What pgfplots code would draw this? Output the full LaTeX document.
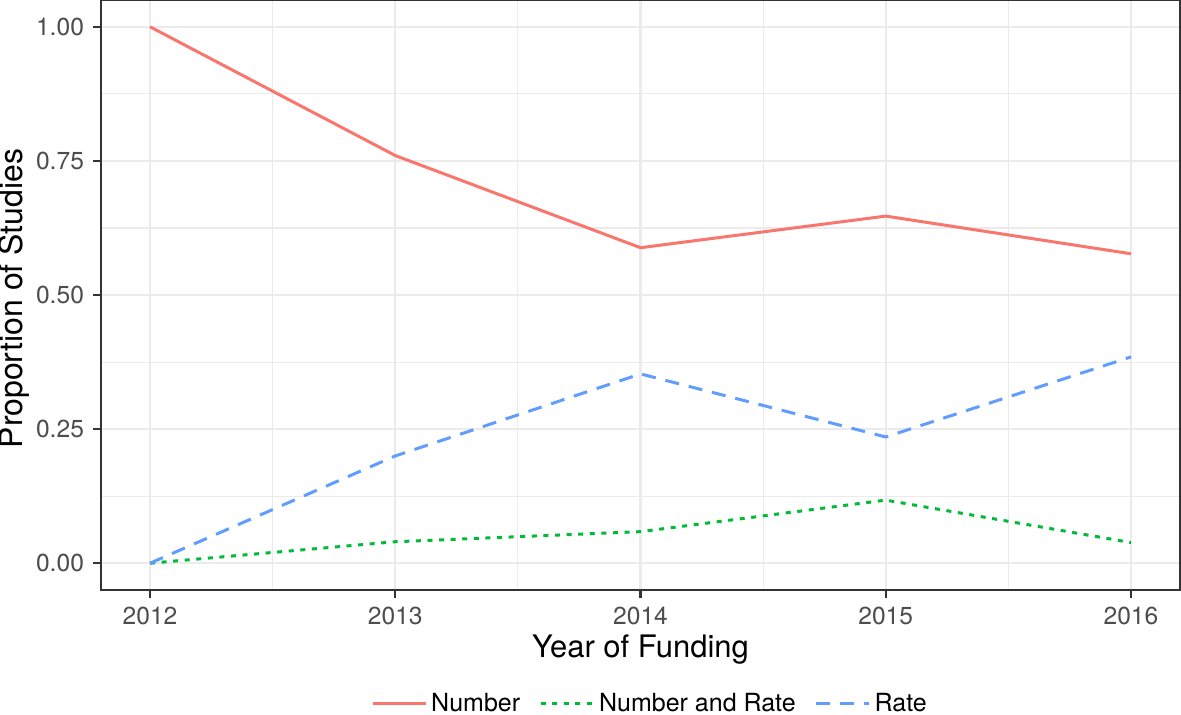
\documentclass[border=0pt]{standalone}
\usepackage{pgfplots}
\pgfplotsset{compat=1.18}
\usepackage{fontspec}
\setmainfont{TeX Gyre Heros}
\definecolor{cN}{HTML}{F8766D}
\definecolor{cNR}{HTML}{00BA38}
\definecolor{cR}{HTML}{619CFF}
\definecolor{gridc}{HTML}{EBEBEB}
\definecolor{frame}{HTML}{333333}
\definecolor{ticklab}{HTML}{4D4D4D}
\begin{document}
\begin{tikzpicture}
\begin{axis}[
  scale only axis,
  width=539.5pt, height=295pt,
  xmin=2011.8, xmax=2016.2,
  ymin=-0.05, ymax=1.05,
  xtick={2012,2013,2014,2015,2016},
  ytick={0,0.25,0.5,0.75,1},
  yticklabels={0.00,0.25,0.50,0.75,1.00},
  xticklabel style={/pgf/number format/1000 sep={}},
  minor xtick={2012.5,2013.5,2014.5,2015.5},
  minor ytick={0.125,0.375,0.625,0.875},
  grid=both,
  major grid style={gridc, line width=1.1pt},
  minor grid style={gridc, line width=0.55pt},
  axis line style={frame, line width=1.1pt},
  tick style={frame, line width=1.1pt},
  tick align=outside,
  major tick length=4pt,
  minor tick length=0pt,
  xtick pos=bottom, ytick pos=left,
  /pgf/number format/assume math mode=true,
  tick label style={font=\fontsize{12.3}{14}\selectfont, text=ticklab},
  xticklabel style={yshift=-1pt},
  yticklabel style={xshift=-1pt},
  xlabel={Year of Funding},
  ylabel={Proportion of Studies},
  label style={font=\fontsize{15.5}{17}\selectfont},
  xlabel style={at={(axis description cs:0.5,-0.1017)}, anchor=center},
  ylabel style={at={(axis description cs:-0.0806,0.494)}, anchor=center, font=\fontsize{16}{18}\selectfont},
  legend columns=3,
  legend style={at={(axis description cs:0.5097,-0.193)}, anchor=center, draw=none, fill=none,
    font=\fontsize{12.5}{14}\selectfont, /tikz/every even column/.append style={column sep=7.5pt}},
  legend image code/.code={\draw[#1] (0pt,0pt) -- (19pt,0pt); \path (0pt,0pt) -- (26.5pt,0pt);},
]
\addplot[cN, line width=1.5pt] coordinates {(2012,1) (2013,0.76) (2014,0.5882) (2015,0.6471) (2016,0.5769)};
\addlegendentry{Number}
\addplot[cNR, line width=1.5pt, dash pattern=on 2.5pt off 3.3pt] coordinates {(2012,0) (2013,0.04) (2014,0.0588) (2015,0.1176) (2016,0.0385)};
\addlegendentry{Number and Rate}
\addplot[cR, line width=1.5pt, dash pattern=on 7pt off 5pt] coordinates {(2012,0) (2013,0.2) (2014,0.3529) (2015,0.2353) (2016,0.3846)};
\addlegendentry{Rate}
\end{axis}
\pgfresetboundingbox
\path (-50.5pt,-62pt) rectangle (540pt,295pt);
\end{tikzpicture}
\end{document}
